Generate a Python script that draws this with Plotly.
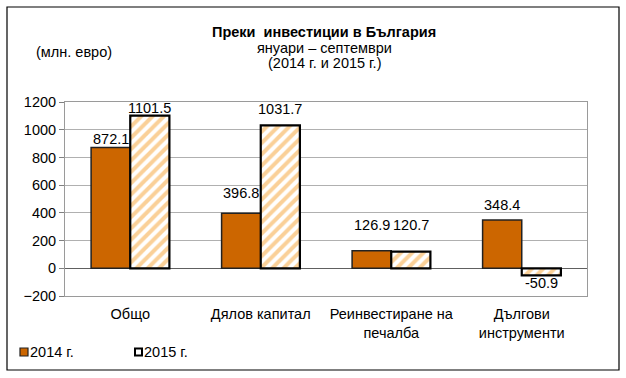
import plotly.graph_objects as go

categories = ["Общо", "Дялов капитал", "Реинвестиране на<br>печалба", "Дългови<br>инструменти"]
values_2014 = [872.1, 396.8, 126.9, 348.4]
values_2015 = [1101.5, 1031.7, 120.7, -50.9]
series_names = ["2014 г.", "2015 г."]
tick_vals = [-200, 0, 200, 400, 600, 800, 1000, 1200]

# distance of label centre from bar end (pixels), as placed in the original
label_gap_2014 = [8, 20, 26, 15]
label_gap_2015 = [8, 16, 27, 8]

FONT = "Liberation Sans, Arial, sans-serif"
FS = 14.5
COL14 = "#CC6600"
COL15 = "#F6A232"

# plot area geometry (pixels)
L, R, T, B = 65, 39, 102, 82
W, H = 626, 378
PW, PH = W - L - R, H - T - B
bottom_px = H - B
BARGAP = 0.40
half_bar_px = PW / len(categories) * (1 - BARGAP) / 4


def px_x(x):
    return (x - L) / PW


def px_y(y):
    return (bottom_px - y) / PH


fig = go.Figure()
fig.add_trace(go.Bar(
    x=categories, y=values_2014, name=series_names[0],
    marker=dict(color=COL14, line=dict(color="#222222", width=1.5)),
))
fig.add_trace(go.Bar(
    x=categories, y=values_2015, name=series_names[1],
    marker=dict(color="white", line=dict(color="black", width=2.2),
                pattern=dict(shape="/", fgcolor=COL15, bgcolor="white", size=8, solidity=0.5)),
))

# value labels
for vals, gaps, sgn in [(values_2014, label_gap_2014, -1), (values_2015, label_gap_2015, 1)]:
    for c, v, g in zip(categories, vals, gaps):
        fig.add_annotation(x=c, y=v, text=f"{v:.1f}", showarrow=False,
                           xshift=sgn * half_bar_px,
                           yshift=g if v >= 0 else -g,
                           yanchor="middle",
                           font=dict(family=FONT, size=FS, color="black"))

fig.update_layout(
    width=W, height=H,
    margin=dict(l=L, r=R, t=T, b=B, autoexpand=False),
    paper_bgcolor="white", plot_bgcolor="white",
    barmode="group", bargap=BARGAP, bargroupgap=0,
    font=dict(family=FONT, size=FS, color="black"),
    showlegend=False,
)
fig.update_yaxes(range=[-200, 1200], tickvals=tick_vals, showgrid=True, gridcolor="#B0B0B0",
                 gridwidth=1, zeroline=True, zerolinecolor="#606060", zerolinewidth=1,
                 showline=True, linecolor="#9a9a9a", linewidth=1, mirror=True,
                 ticks="outside", ticklen=5, tickcolor="#808080", automargin=False,
                 tickfont=dict(family=FONT, size=FS, color="black"))
fig.update_xaxes(showline=True, linecolor="#9a9a9a", linewidth=1, mirror=True, automargin=False,
                 tickfont=dict(family=FONT, size=FS, color="black"), ticks="",
                 ticklabelstandoff=5)

# outer frame
fig.add_shape(type="rect", xref="paper", yref="paper",
              x0=px_x(7), x1=px_x(619), y0=px_y(370), y1=px_y(7),
              line=dict(color="black", width=1.2), fillcolor="rgba(0,0,0,0)")

# titles
for txt, yy in [("<b>Преки  инвестиции в България</b>", 32),
                ("януари – септември", 48),
                ("(2014 г. и 2015 г.)", 63)]:
    fig.add_annotation(text=txt, xref="paper", yref="paper",
                       x=px_x(324), y=px_y(yy), xanchor="center", yanchor="middle",
                       showarrow=False, font=dict(family=FONT, size=FS, color="black"))
fig.add_annotation(text="(млн. евро)", xref="paper", yref="paper",
                   x=px_x(34), y=px_y(52), xanchor="left", yanchor="middle",
                   showarrow=False, font=dict(family=FONT, size=FS, color="black"))

# legend (manual)
fig.add_shape(type="rect", xref="paper", yref="paper",
              x0=px_x(20), x1=px_x(28), y0=px_y(356), y1=px_y(348),
              line=dict(color="#222222", width=1.2), fillcolor=COL14)
fig.add_annotation(text=series_names[0], xref="paper", yref="paper",
                   x=px_x(28), y=px_y(352), xanchor="left", yanchor="middle",
                   showarrow=False, font=dict(family=FONT, size=FS, color="black"))
fig.add_shape(type="rect", xref="paper", yref="paper",
              x0=px_x(135), x1=px_x(142), y0=px_y(355.5), y1=px_y(348.5),
              line=dict(color="black", width=2), fillcolor="white")
fig.add_annotation(text=series_names[1], xref="paper", yref="paper",
                   x=px_x(142), y=px_y(352), xanchor="left", yanchor="middle",
                   showarrow=False, font=dict(family=FONT, size=FS, color="black"))

fig.write_html("out.html", config={"displayModeBar": False},
               post_script="document.body.style.margin='0';document.body.style.overflow='hidden';")
